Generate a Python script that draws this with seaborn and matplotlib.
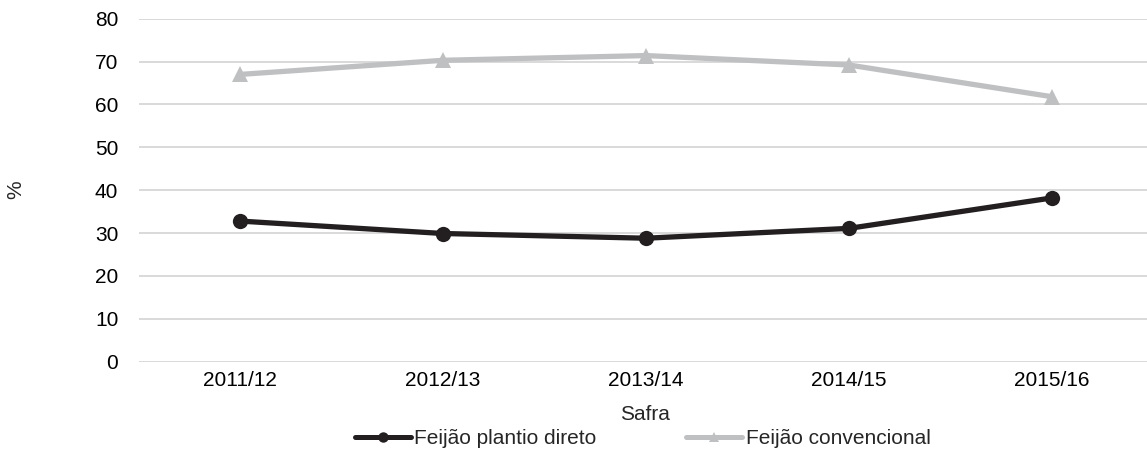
import matplotlib
matplotlib.use("Agg")
import matplotlib.pyplot as plt
from matplotlib.lines import Line2D
import seaborn as sns
import pandas as pd

# Safras (crop seasons) and share of each system, in %
safras = ["2011/12", "2012/13", "2013/14", "2014/15", "2015/16"]
plantio_direto = [32.8, 29.9, 28.8, 31.1, 38.2]
convencional = [67.0, 70.3, 71.4, 69.2, 61.8]
series_names = ["Feijão plantio direto", "Feijão convencional"]
y_ticks = [0, 10, 20, 30, 40, 50, 60, 70, 80]

sns.set_theme(style="white")
plt.rcParams["font.family"] = ["Liberation Sans", "DejaVu Sans"]
FS = 15.0

df = pd.DataFrame({
    "Safra": safras * 2,
    "valor": plantio_direto + convencional,
    "serie": [series_names[0]] * len(safras) + [series_names[1]] * len(safras),
})

W, H = 1147, 450
fig = plt.figure(figsize=(W / 100, H / 100), dpi=100)
left, right = 138.5, 1153.5
top, bottom = 18.7, 361.7
ax = fig.add_axes([left / W, 1 - bottom / H, (right - left) / W, (bottom - top) / H])

palette = {series_names[0]: "#231f20", series_names[1]: "#bfc0c2"}
markers = {series_names[0]: "o", series_names[1]: "^"}
sns.lineplot(
    data=df, x="Safra", y="valor", hue="serie", style="serie",
    palette=palette, markers=markers, dashes=False,
    hue_order=[series_names[1], series_names[0]],
    style_order=[series_names[1], series_names[0]],
    linewidth=3.8, markersize=11, markeredgewidth=0,
    ax=ax, legend=False, sort=False,
)

ax.set_xlim(-0.5, len(safras) - 0.5)
ax.set_ylim(0, 80)
ax.set_yticks(y_ticks)
ax.yaxis.grid(True, color="#d9d9d9", linewidth=1.4)
ax.xaxis.grid(False)
ax.set_axisbelow(True)
for s in ax.spines.values():
    s.set_visible(False)
ax.tick_params(axis="y", length=0, pad=14.5, labelsize=FS, labelcolor="#000000")
ax.tick_params(axis="x", length=0, pad=7, labelsize=FS, labelcolor="#000000")
ax.set_xlabel("")
ax.set_ylabel("")

fig.text(645 / W, 1 - 414 / H, "Safra", ha="center", va="center", fontsize=FS)
fig.text(16 / W, 1 - 190 / H, "%", ha="center", va="center", rotation=90, fontsize=FS)

handles = [
    Line2D([], [], color=palette[series_names[0]], marker="o", linewidth=3.6, markersize=7.5, markeredgewidth=0),
    Line2D([], [], color=palette[series_names[1]], marker="^", linewidth=3.6, markersize=7.5, markeredgewidth=0),
]
fig.legend(
    handles, series_names, loc="center left", ncol=2, frameon=False,
    bbox_to_anchor=(355 / W, 1 - 438.5 / H), bbox_transform=fig.transFigure,
    borderpad=0, borderaxespad=0, handlelength=2.7, handletextpad=0.15,
    columnspacing=4.3, fontsize=FS,
)

fig.savefig("out.png", dpi=100)
